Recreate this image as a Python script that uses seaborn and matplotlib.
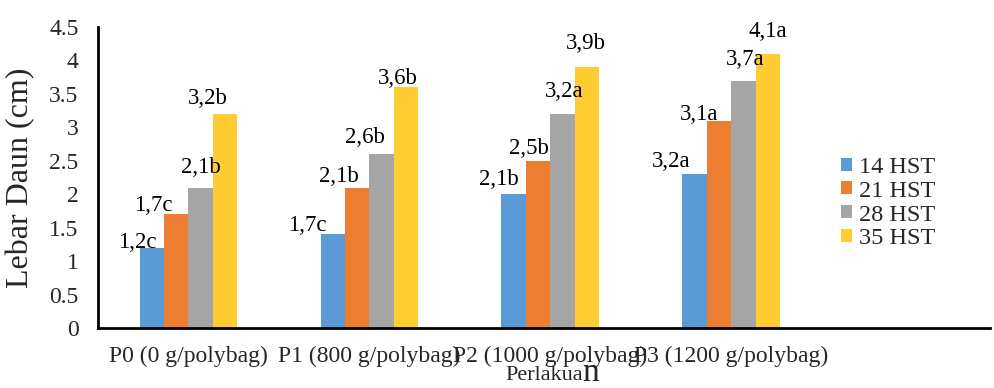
import matplotlib
matplotlib.use("Agg")
import matplotlib.pyplot as plt
import seaborn as sns
import pandas as pd
from matplotlib.ticker import FuncFormatter
from matplotlib.patches import Patch

# data
perlakuan = ["P0 (0 g/polybag)", "P1 (800 g/polybag)", "P2 (1000 g/polybag)", "P3 (1200 g/polybag)"]
umur = ["14 HST", "21 HST", "28 HST", "35 HST"]
lebar_14 = [1.2, 1.4, 2.0, 2.3]
lebar_21 = [1.7, 2.1, 2.5, 3.1]
lebar_28 = [2.1, 2.6, 3.2, 3.7]
lebar_35 = [3.2, 3.6, 3.9, 4.1]
label_14 = ["1,2c", "1,7c", "2,1b", "3,2a"]
label_21 = ["1,7c", "2,1b", "2,5b", "3,1a"]
label_28 = ["2,1b", "2,6b", "3,2a", "3,7a"]
label_35 = ["3,2b", "3,6b", "3,9b", "4,1a"]

COLORS = ["#5B9BD5", "#ED7D31", "#A5A5A5", "#FFCC33"]

# hand placement of the labels in the original (pixels, relative to bar top centre)
LABEL_OFFSETS = [
    [(-15, 0), (-25, 3), (-15, 9), (-23, 7)],
    [(-23, 3), (-18, 6), (-9, 7), (-20, 1)],
    [(0, 15), (-17, 11), (2, 17), (2, 16)],
    [(-17, 10), (-8, 3), (-1, 18), (0, 17)],
]

series = [lebar_14, lebar_21, lebar_28, lebar_35]
labels = [label_14, label_21, label_28, label_35]

df = pd.DataFrame({
    "perlakuan": perlakuan * len(umur),
    "umur": [u for u in umur for _ in perlakuan],
    "lebar": [v for s in series for v in s],
})

sns.set_style("white")
plt.rcParams["font.family"] = ["Liberation Serif", "DejaVu Serif"]

fig = plt.figure(figsize=(9.94, 3.88), dpi=100)
ax = fig.add_axes([98 / 994, 60 / 388, 892 / 994, 301 / 388])

sns.barplot(
    data=df, x="perlakuan", y="lebar", hue="umur",
    order=perlakuan, hue_order=umur, palette=COLORS,
    width=0.54, saturation=1, linewidth=0, legend=False, ax=ax,
)

for i, container in enumerate(ax.containers):
    for j, bar in enumerate(container):
        dx, dy = LABEL_OFFSETS[i][j]
        ax.annotate(
            labels[i][j],
            xy=(bar.get_x() + bar.get_width() / 2, bar.get_height()),
            xytext=(dx, dy), textcoords="offset pixels",
            ha="center", va="baseline", fontsize=16.5, color="black",
        )

ax.set_xlim(-0.5, 4.43)
ax.set_ylim(0, 4.5)
ax.set_yticks([i * 0.5 for i in range(10)])
ax.yaxis.set_major_formatter(FuncFormatter(lambda v, p: f"{v:g}"))
ax.tick_params(axis="y", length=0, pad=14, labelsize=17)
ax.tick_params(axis="x", length=0, pad=13, labelsize=17)
ax.set_xlabel("")
ax.set_ylabel("Lebar Daun (cm)", fontsize=23, labelpad=10)

for side in ["top", "right"]:
    ax.spines[side].set_visible(False)
for side in ["left", "bottom"]:
    ax.spines[side].set_color("black")
    ax.spines[side].set_linewidth(2)

handles = [Patch(facecolor=c, edgecolor="none") for c in COLORS]
ax.legend(
    handles, umur, loc="center left", bbox_to_anchor=(0.833, 0.415),
    frameon=False, fontsize=17.5, handlelength=0.45, handleheight=0.45,
    handletextpad=0.3, labelspacing=0.12, borderpad=0, borderaxespad=0,
)

# x label, with the oversized final "n" of the original
t1 = fig.text(505 / 994, 8 / 388, "Perlakua", fontsize=16, va="baseline")
fig.canvas.draw()
ax.annotate("n", xy=(1, 0), xycoords=t1, xytext=(0, 4), textcoords="offset pixels",
            fontsize=24, va="baseline", ha="left")

fig.savefig("out.png", dpi=100)
